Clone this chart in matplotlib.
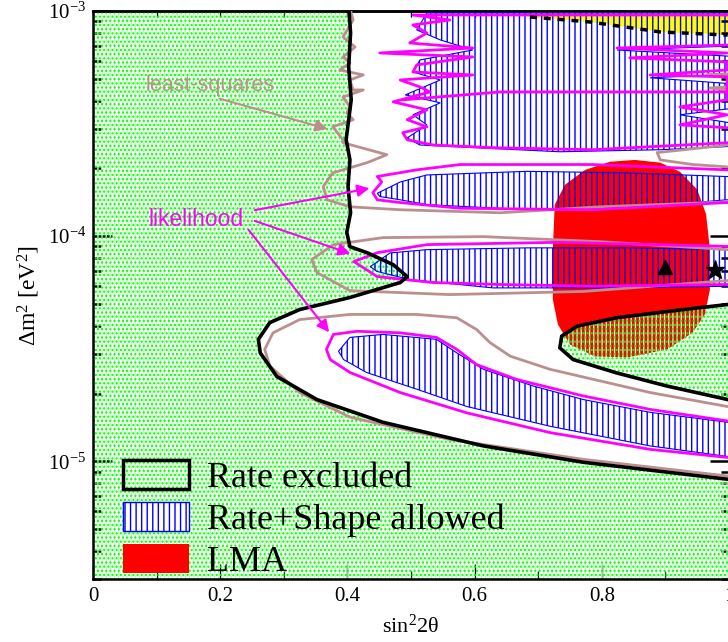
import numpy as np
import matplotlib
matplotlib.use("Agg")
import matplotlib.pyplot as plt
from matplotlib.patches import Polygon, Patch
from matplotlib.ticker import MultipleLocator, LogLocator, NullFormatter

# ------------- DATA (sin^2 2theta, dm^2 in units of 1e-5 eV^2) -------------
# rate-only boundary (black)
BLACK_X = [0.402, 0.405, 0.402, 0.406, 0.398, 0.404, 0.401, 0.405, 0.399, 0.404, 0.431, 0.472, 0.494,
           0.483, 0.404, 0.325, 0.278, 0.260, 0.263, 0.289, 0.352, 0.456, 0.614, 0.771, 0.998, 1.05]
BLACK_DM = [105, 79.9, 56.5, 40.3, 26.8, 21.8, 16.6, 12.7, 10.4, 8.98, 8.44, 7.47, 6.61,
            6.22, 5.34, 4.72, 4.13, 3.48, 3.03, 2.38, 1.88, 1.49, 1.17, 0.99, 0.832, 0.80]
ISLAND_X = [1.05, 0.998, 0.928, 0.823, 0.761, 0.737, 0.734, 0.755, 0.823, 0.902, 0.998, 1.05]
ISLAND_DM = [5.1, 4.97, 4.72, 4.34, 3.98, 3.60, 3.19, 2.83, 2.47, 2.16, 1.88, 1.8]

# LMA solar region
LMA_X = [0.723, 0.723, 0.726, 0.742, 0.774, 0.813, 0.852, 0.892, 0.923, 0.950,
         0.964, 0.970, 0.970, 0.962, 0.943, 0.903, 0.840, 0.789, 0.750, 0.731]
LMA_DM = [5.23, 8.71, 13.8, 16.9, 19.7, 21.4, 21.8, 21.2, 19.3, 16.1,
          12.5, 8.71, 5.79, 4.49, 3.73, 3.14, 2.89, 2.92, 3.30, 4.05]

# rate+shape allowed islands (blue)
BLUE_A_X = [0.386, 0.404, 0.456, 0.540, 0.572, 0.614, 0.692, 0.771, 0.876, 0.998, 1.05,
            1.05, 0.998, 0.876, 0.719, 0.588, 0.509, 0.430, 0.394]
BLUE_A_DM = [3.08, 3.55, 3.66, 3.48, 3.03, 2.56, 2.16, 1.88, 1.65, 1.49, 1.45,
             1.02, 1.05, 1.17, 1.43, 1.75, 2.09, 2.48, 2.83]
BLUE_B_X = [0.436, 0.467, 0.525, 0.682, 0.839, 0.996, 1.05, 1.05, 0.996, 0.839, 0.629, 0.498, 0.446]
BLUE_B_DM = [7.32, 8.42, 8.71, 8.87, 8.87, 8.71, 8.7, 6.0, 5.99, 5.89, 5.89, 6.41, 6.98]
BLUE_C_X = [0.447, 0.483, 0.525, 0.682, 0.839, 0.996, 1.05, 1.05, 0.996, 0.839, 0.682, 0.525, 0.483, 0.451]
BLUE_C_DM = [15.5, 17.4, 18.7, 19.4, 19.1, 18.4, 18.3, 14.5, 14.5, 13.3, 13.1, 13.8, 14.5, 15.0]
BLUE_TOP_X = [0.525, 1.05, 1.05, 0.824, 1.05, 1.05, 0.876, 1.05, 1.05, 0.923, 1.05, 1.05, 0.892, 0.734,
              0.577, 0.514, 0.494, 0.525, 0.503, 0.546, 0.491, 0.546, 0.503, 0.514, 0.597, 0.546, 0.509]
BLUE_TOP_DM = [98, 98, 70.6, 67.1, 61.9, 53.1, 50.5, 46.5, 38.3, 34.6, 30.3, 25.4, 24.2, 23.7,
               24.9, 25.4, 27.3, 31.2, 34.6, 39.1, 42.4, 49.4, 53.6, 60.6, 67.1, 74.4, 82.4]

# likelihood contours (magenta)
LIKE_A_X = [1.05, 0.998, 0.876, 0.771, 0.666, 0.603, 0.572, 0.540, 0.483, 0.415, 0.378, 0.367,
            0.373, 0.404, 0.483, 0.588, 0.719, 0.876, 0.998, 1.05]
LIKE_A_DM = [1.48, 1.51, 1.70, 1.95, 2.31, 2.69, 3.14, 3.55, 3.72, 3.78, 3.66, 3.14,
             2.83, 2.48, 2.02, 1.64, 1.34, 1.13, 1.04, 1.0]
LIKE_B_X = [1.05, 0.996, 0.734, 0.525, 0.447, 0.410, 0.447, 0.535, 0.640, 0.786, 0.996, 1.05]
LIKE_B_DM = [9.0, 9.01, 9.39, 9.17, 8.44, 7.71, 6.61, 6.22, 6.10, 5.99, 6.10, 6.1]
LIKE_C_X = [1.05, 0.996, 0.786, 0.577, 0.509, 0.447, 0.454, 0.440, 0.447, 0.483, 0.577, 0.786, 0.996, 1.05]
LIKE_C_DM = [19.6, 19.7, 20.8, 20.8, 19.7, 18.4, 17.4, 15.6, 14.5, 14.1, 13.3, 13.1, 14.1, 14.1]
LIKE_TOP_X = [1.05, 0.503, 0.561, 0.503, 0.525, 0.498, 0.597, 0.451, 0.597, 0.509, 0.503, 0.597, 0.483,
              0.514, 0.530, 0.472, 0.525, 0.494, 0.525, 0.487, 0.494, 0.535, 0.629, 0.786, 0.997, 1.05]
LIKE_TOP_DM = [96, 96, 91.2, 86.7, 79.9, 72.1, 68.5, 65.1, 62.5, 57.6, 53.6, 52.0, 49.4,
               46.0, 43.7, 39.5, 36.4, 32.9, 30.6, 28.8, 26.8, 25.4, 24.7, 24.2, 26.0, 26.0]
LIKE_RIGHT_X = [1.05, 0.997, 0.923, 0.997, 0.923, 0.997, 0.997, 0.876, 0.997, 0.997, 0.844, 0.997, 0.824, 0.997, 1.05]
LIKE_RIGHT_DM = [30.3, 30.3, 31.2, 34.6, 37.5, 40.3, 51.0, 52.0, 54.7, 59.4, 61.9, 65.1, 68.5, 70.6, 70.6]
LIKE_SPLIT_X = [0.487, 0.640, 1.05]
LIKE_SPLIT_DM = [40.3, 43.7, 43.7]

# least-squares contours (brown)
LSQ_A_X = [1.05, 0.998, 0.876, 0.719, 0.656, 0.624, 0.603, 0.572, 0.509, 0.404, 0.325, 0.283,
           0.270, 0.278, 0.325, 0.404, 0.561, 0.771, 0.998, 1.05]
LSQ_A_DM = [1.72, 1.75, 2.02, 2.56, 2.93, 3.37, 3.85, 4.34, 4.49, 4.49, 4.26, 3.72,
            3.14, 2.65, 2.02, 1.57, 1.25, 1.02, 0.86, 0.84]
LSQ_B_X = [1.05, 0.998, 0.797, 0.614, 0.456, 0.378, 0.344, 0.352, 0.404, 0.561, 0.771, 0.998, 1.05]
LSQ_B_DM = [8.6, 8.71, 9.45, 9.95, 9.85, 9.17, 7.87, 6.89, 5.73, 5.50, 5.68, 6.35, 6.4]
LSQ_LEFT_X = [0.404, 0.409, 0.393, 0.412, 0.393, 0.404, 0.388, 0.425, 0.404, 0.409, 0.425, 0.393, 0.404,
              0.399, 0.409, 0.377, 0.393, 0.393, 0.462, 0.431, 0.377, 0.362, 0.368, 0.404, 0.483,
              0.640, 0.797, 0.998, 1.05]
LSQ_LEFT_DM = [103, 91.2, 76.7, 69.2, 62.5, 58.8, 54.7, 52.0, 49.4, 44.6, 44.6, 41.5, 37.5,
               35.3, 32.9, 30.6, 26.8, 26.0, 23.0, 21.2, 19.1, 16.6, 14.5, 13.5, 13.1,
               12.7, 13.5, 14.2, 14.2]
LSQ_LOBE_X = [1.05, 0.998, 0.887, 0.892, 0.943, 0.998, 1.05]
LSQ_LOBE_DM = [25.4, 25.4, 23.5, 21.8, 20.8, 20.3, 20.3]
LSQ_TOP1_X = [1.05, 0.965, 1.05]
LSQ_TOP1_DM = [53.6, 52.0, 50.5]
LSQ_TOP2_X = [1.05, 0.970, 1.05]
LSQ_TOP2_DM = [47.0, 45.5, 42.4]

# yellow region near the top and its dashed boundary
YELLOW_X = [0.667, 0.687, 0.781, 0.892, 0.998, 1.05, 1.05]
YELLOW_DM = [102, 94.1, 89.4, 80.7, 78.2, 78.2, 102]
DASH_X = [0.687, 0.781, 0.892, 0.998]
DASH_DM = [94.1, 89.4, 80.7, 78.2]

# best-fit points
TRI_X, TRI_DM = 0.899, 7.32
STAR_X, STAR_DM = 0.978, 7.10

X_TICKS = [0, 0.2, 0.4, 0.6, 0.8, 1.0]
X_TICK_LABELS = ["0", "0.2", "0.4", "0.6", "0.8", "1"]
LEGEND_LABELS = ["Rate excluded", "Rate+Shape allowed", "LMA"]
# ---------------------------------------------------------------------------

UNIT = 1e-5
GREEN = "#00ff00"
PALE_GREEN = "#b8ffb8"
BLUE = "#0000ff"
MAGENTA = "#ff00ff"
BROWN = "#bc8f8f"
RED = "#ff0000"


def pts(xs, dms):
    return np.column_stack([xs, np.asarray(dms) * UNIT])


def green_dots(ax, verts):
    # pale vertical stripes plus bright dots, like the excluded-area texture
    ax.add_patch(Polygon(verts, closed=True, fc="none", ec=PALE_GREEN, hatch="||||", lw=0, zorder=2))
    ax.add_patch(Polygon(verts, closed=True, fc="none", ec=GREEN, hatch="....", lw=0, zorder=2.1))


plt.rcParams["font.family"] = ["Liberation Serif", "DejaVu Serif"]
plt.rcParams["mathtext.fontset"] = "custom"
plt.rcParams["mathtext.rm"] = "Liberation Serif"
plt.rcParams["mathtext.it"] = "Liberation Serif:italic"
plt.rcParams["hatch.linewidth"] = 1.0

fig = plt.figure(figsize=(7.28, 6.42), dpi=100)
ax = fig.add_axes([93 / 728, 1 - 579 / 642, 636 / 728, 568 / 642])
ax.set_xlim(0, 1)
ax.set_yscale("log")
ax.set_ylim(3e-6, 1e-3)

black = pts(BLACK_X, BLACK_DM)
island = pts(ISLAND_X, ISLAND_DM)

# filled areas
ax.add_patch(Polygon(pts(LMA_X, LMA_DM), closed=True, fc=RED, ec="none", zorder=1))
ax.add_patch(Polygon(pts(YELLOW_X, YELLOW_DM), closed=True, fc="yellow", ec="none", zorder=1))

excluded = np.vstack([[[-0.1, black[0, 1]]], black,
                      [[1.1, black[-1, 1]], [1.1, 1e-7], [-0.1, 1e-7]]])
green_dots(ax, excluded)
green_dots(ax, island)

for bx, bd in [(BLUE_A_X, BLUE_A_DM), (BLUE_B_X, BLUE_B_DM),
               (BLUE_C_X, BLUE_C_DM), (BLUE_TOP_X, BLUE_TOP_DM)]:
    ax.add_patch(Polygon(pts(bx, bd), closed=True, fc="none", ec=BLUE, hatch="|||", lw=0.8, zorder=3))

# contour lines
for lx, ld in [(LSQ_A_X, LSQ_A_DM), (LSQ_B_X, LSQ_B_DM), (LSQ_LEFT_X, LSQ_LEFT_DM),
               (LSQ_LOBE_X, LSQ_LOBE_DM), (LSQ_TOP1_X, LSQ_TOP1_DM), (LSQ_TOP2_X, LSQ_TOP2_DM)]:
    p = pts(lx, ld)
    ax.plot(p[:, 0], p[:, 1], color=BROWN, lw=2.0, zorder=4)

for lx, ld in [(LIKE_A_X, LIKE_A_DM), (LIKE_B_X, LIKE_B_DM), (LIKE_C_X, LIKE_C_DM),
               (LIKE_TOP_X, LIKE_TOP_DM), (LIKE_RIGHT_X, LIKE_RIGHT_DM), (LIKE_SPLIT_X, LIKE_SPLIT_DM)]:
    p = pts(lx, ld)
    ax.plot(p[:, 0], p[:, 1], color=MAGENTA, lw=2.0, zorder=4.5)

ax.plot(black[:, 0], black[:, 1], color="black", lw=2.6, zorder=5)
ax.plot(island[:, 0], island[:, 1], color="black", lw=2.6, zorder=5)
dash = pts(DASH_X, DASH_DM)
ax.plot(dash[:, 0], dash[:, 1], color="black", lw=2.5, ls=(0, (2, 2)), zorder=5)

ax.plot([TRI_X], [TRI_DM * UNIT], marker="^", color="black", ms=10, zorder=6)
ax.plot([STAR_X], [STAR_DM * UNIT], marker="*", color="black", ms=14, zorder=6)

# annotations
ax.text(0.184, 4.65e-4, "least-squares", color=BROWN, fontsize=15.5, family="Liberation Sans",
        ha="center", va="center", zorder=7)
ax.annotate("", xy=(0.373, 29.7e-5), xytext=(0.195, 41.1e-5),
            arrowprops=dict(arrowstyle="-|>", color=BROWN, lw=1.5, mutation_scale=18), zorder=7)
ax.text(0.162, 1.18e-4, "likelihood", color=MAGENTA, fontsize=16.5, family="Liberation Sans",
        ha="center", va="center", zorder=7)
for tail, tip in [((0.25, 12.97e-5), (0.439, 16.4e-5)),
                  ((0.25, 11.8e-5), (0.409, 8.28e-5)),
                  ((0.242, 10.9e-5), (0.374, 3.66e-5))]:
    ax.annotate("", xy=tip, xytext=tail,
                arrowprops=dict(arrowstyle="-|>", color=MAGENTA, lw=1.5, mutation_scale=18), zorder=7)

# legend
excl_handle = (Patch(fc="white", ec=PALE_GREEN, hatch="||||", lw=0),
               Patch(fc="none", ec=GREEN, hatch="....", lw=0),
               Patch(fc="none", ec="black", lw=2.5))
allowed_handle = Patch(fc="white", ec=BLUE, hatch="|||", lw=1.0)
lma_handle = Patch(fc=RED, ec="none")
ax.legend([excl_handle, allowed_handle, lma_handle], LEGEND_LABELS,
          loc="lower left", bbox_to_anchor=(30 / 636, 0.0), frameon=False, fontsize=26,
          handlelength=1.83, handleheight=0.83, handletextpad=0.5, labelspacing=0.2,
          borderpad=0.0, borderaxespad=0.0)

# axes styling
ax.set_xticks(X_TICKS)
ax.set_xticklabels(X_TICK_LABELS)
ax.xaxis.set_minor_locator(MultipleLocator(0.1))
ax.yaxis.set_major_locator(LogLocator(base=10, numticks=10))
ax.yaxis.set_minor_locator(LogLocator(base=10, subs=np.arange(2, 10), numticks=10))
ax.yaxis.set_minor_formatter(NullFormatter())
ax.tick_params(axis="x", which="major", direction="in", length=11, width=1.0, labelsize=15, pad=6)
ax.tick_params(axis="x", which="minor", direction="in", length=6, width=1.0)
ax.tick_params(axis="y", which="major", direction="in", length=14, width=1.8, labelsize=15,
               pad=5, right=True)
ax.tick_params(axis="y", which="minor", direction="in", length=6, width=1.8, right=True)

top = ax.secondary_xaxis("top")
top.xaxis.set_major_locator(MultipleLocator(0.1))
top.tick_params(axis="x", direction="in", length=4, width=1.0, labelsize=0, labeltop=False)

for s in ax.spines.values():
    s.set_linewidth(1.8)
top.spines["top"].set_linewidth(1.8)

ax.set_xlabel(r"sin$^2$2θ", fontsize=16, labelpad=6)
ax.set_ylabel(r"$\Delta$m$^2$ [eV$^2$]", fontsize=17, labelpad=4)

fig.savefig("out.png", dpi=100)
